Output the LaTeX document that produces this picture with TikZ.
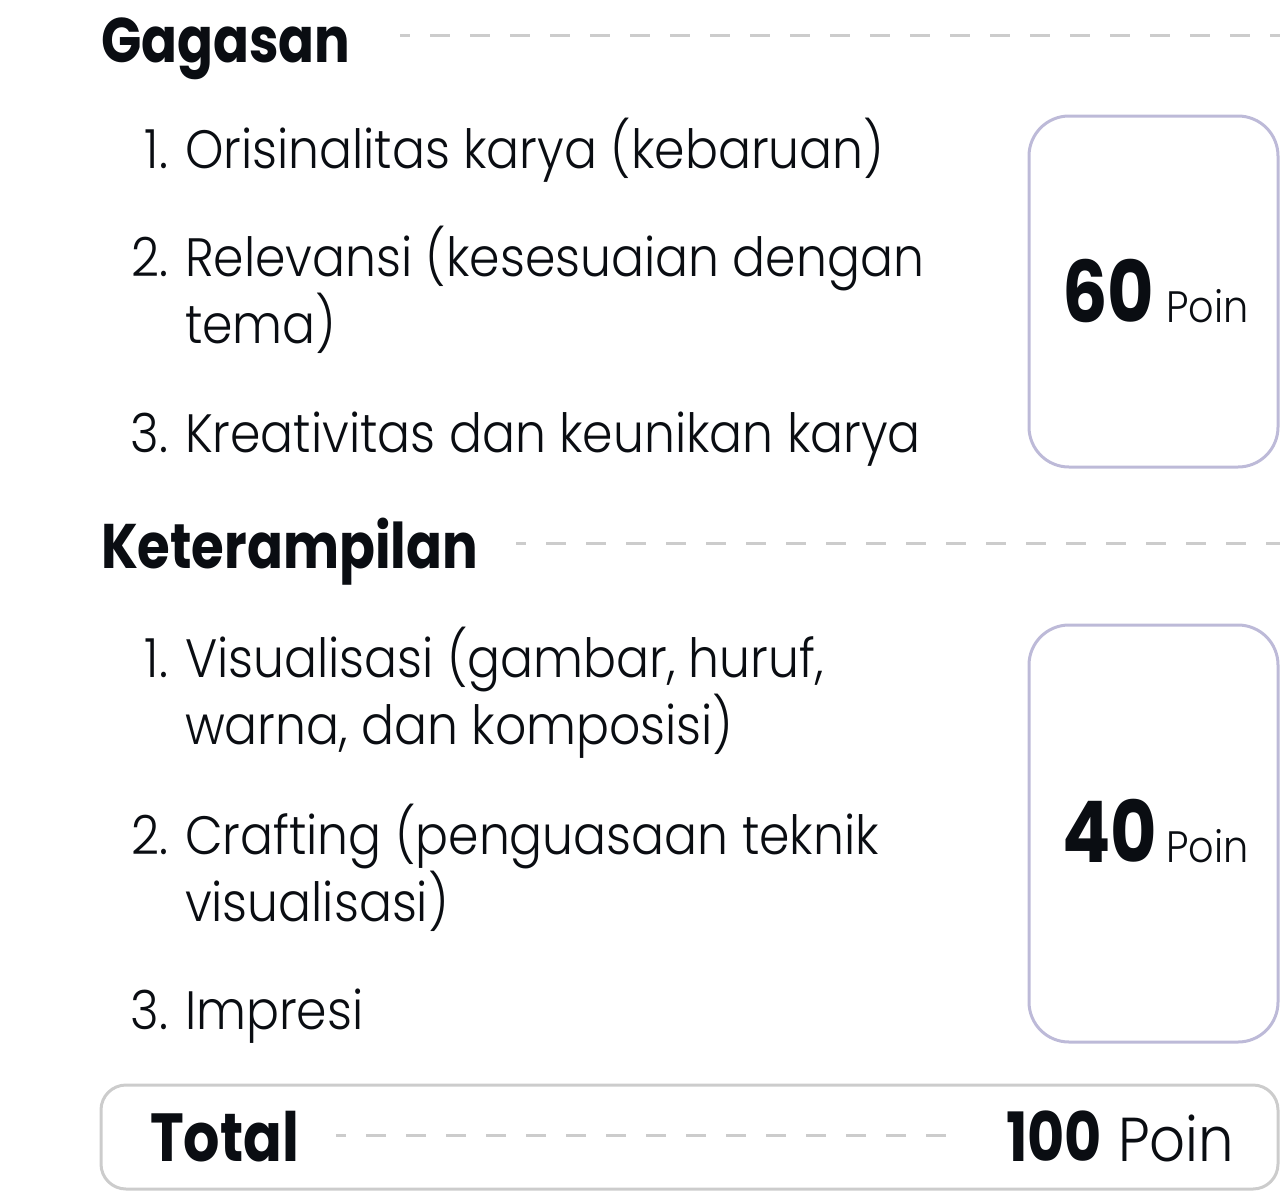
\documentclass[tikz,border=0pt]{standalone}
\usepackage{fontspec}
\setmainfont[FakeStretch=0.905]{Poppins Light}
\newfontfamily\boldface[FakeStretch=0.84]{Poppins Bold}
\definecolor{ink}{HTML}{0A0D12}
\definecolor{dashgray}{HTML}{CCCCCC}
\definecolor{lav}{HTML}{BDBAD8}
\tikzset{
  txt/.style={anchor=base west, inner sep=0pt, outer sep=0pt, text=ink, font=\fontsize{54}{60}\selectfont},
  num/.style={anchor=base east, inner sep=0pt, outer sep=0pt, text=ink, font=\fontsize{54}{60}\selectfont},
  head/.style={anchor=base west, inner sep=0pt, outer sep=0pt, text=ink, font=\boldface\fontsize{63}{70}\selectfont},
  sep/.style={draw=dashgray, line width=3pt, dash pattern=on 20pt off 20pt},
  scorebox/.style={draw=lav, line width=3pt, rounded corners=40pt},
  totalbox/.style={draw=dashgray, line width=3pt, rounded corners=25pt},
  bignum/.style={anchor=base west, inner sep=0pt, text=ink, font=\boldface\fontsize{85}{90}\selectfont},
  poin/.style={anchor=base west, inner sep=0pt, text=ink, font=\fontsize{44}{50}\selectfont},
  tot/.style={anchor=base west, inner sep=0pt, text=ink, font=\boldface\fontsize{68}{76}\selectfont},
  totr/.style={anchor=base west, inner sep=0pt, text=ink, font=\fontsize{62}{70}\selectfont},
}
\begin{document}
\begin{tikzpicture}[x=1pt,y=-1pt]
\useasboundingbox (0,0) rectangle (1280,1192);
% Gagasan
\node[head] (gag) at (101,62) {Gagasan};
\coordinate (gagL) at (400,35);
\coordinate (gagR) at (1280,35);
\draw[sep, dash phase=10pt] (gagL) -- (gagR);
\node[num] (g1n) at (168,168) {1.};
\node[txt] (g1) at (185,168) {Orisinalitas karya (kebaruan)};
\node[num] (g2n) at (168,276) {2.};
\node[txt] (g2a) at (185,276) {Relevansi (kesesuaian dengan};
\node[txt] (g2b) at (185,343) {tema)};
\node[num] (g3n) at (168,452) {3.};
\node[txt] (g3) at (185,452) {Kreativitas dan keunikan karya};
\draw[scorebox] (1029,116) rectangle (1278,467);
\node[bignum] (s60) at (1062,322) {60};
\node[poin] (p60) at (1166,322) {Poin};
% Keterampilan
\node[head] (ket) at (101,568) {Keterampilan};
\coordinate (ketL) at (516,543);
\coordinate (ketR) at (1280,543);
\draw[sep, dash phase=10pt] (ketL) -- (ketR);
\node[num] (k1n) at (168,677) {1.};
\node[txt] (k1a) at (185,677) {Visualisasi (gambar, huruf,};
\node[txt] (k1b) at (185,744) {warna, dan komposisi)};
\node[num] (k2n) at (168,854) {2.};
\node[txt] (k2a) at (185,854) {Crafting (penguasaan teknik};
\node[txt] (k2b) at (185,921) {visualisasi)};
\node[num] (k3n) at (168,1029) {3.};
\node[txt] (k3) at (185,1029) {Impresi};
\draw[scorebox] (1029,625) rectangle (1278,1042);
\node[bignum] (s40) at (1062,862) {40};
\node[poin] (p40) at (1166,862) {Poin};
% Total
\draw[totalbox] (101,1085) rectangle (1278,1189);
\node[tot] (tl) at (150,1161) {Total};
\coordinate (totL) at (336,1135);
\coordinate (totR) at (963,1135);
\draw[sep, dash phase=10pt] (totL) -- (totR);
\node[tot] (t100) at (1006,1161) {100};
\node[totr] (tp) at (1118,1161) {Poin};
\end{tikzpicture}
\end{document}
